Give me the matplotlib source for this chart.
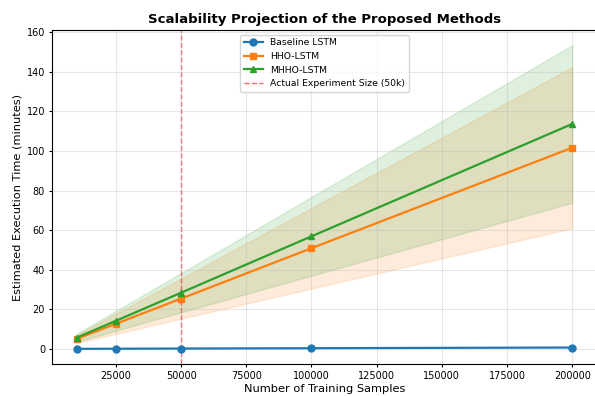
import matplotlib
matplotlib.use("Agg")
from matplotlib import pyplot as plt

samples = [10000, 25000, 50000, 100000, 200000]
baseline = [0.04, 0.09, 0.18, 0.35, 0.70]
hho = [5.1, 12.7, 25.4, 50.9, 101.7]
mhho = [5.7, 14.2, 28.4, 56.9, 113.7]
hho_low = [3.1, 7.6, 15.3, 30.5, 61.0]
hho_high = [7.1, 17.8, 35.6, 71.2, 142.4]
mhho_low = [3.7, 9.2, 18.5, 37.0, 73.9]
mhho_high = [7.7, 19.2, 38.3, 76.8, 153.5]
actual_size = 50000

fig = plt.figure(figsize=(5.95, 3.96), dpi=100)
ax = fig.add_axes([0.0874, 0.0808, 0.916, 0.8434])

ax.plot(samples, baseline, marker='o', color='tab:blue', lw=1.6, ms=5, label='Baseline LSTM')
ax.plot(samples, hho, marker='s', color='tab:orange', lw=1.6, ms=5, label='HHO-LSTM')
ax.fill_between(samples, hho_low, hho_high, color='tab:orange', alpha=0.15)
ax.plot(samples, mhho, marker='^', color='tab:green', lw=1.6, ms=5, label='MHHO-LSTM')
ax.fill_between(samples, mhho_low, mhho_high, color='tab:green', alpha=0.15)
ax.axvline(actual_size, color='red', ls='--', alpha=0.6, lw=1, zorder=1.5,
           label='Actual Experiment Size (50k)')

ax.set_title('Scalability Projection of the Proposed Methods', fontsize=9.5, fontweight='bold', pad=5)
ax.set_xlabel('Number of Training Samples', fontsize=8.2, labelpad=2)
ax.set_ylabel('Estimated Execution Time (minutes)', fontsize=8.2, labelpad=3)
ax.tick_params(labelsize=7, length=2.5, pad=2.5)
ax.grid(True, alpha=0.3)
ax.legend(loc='upper center', fontsize=6.7)

fig.savefig('out.png', dpi=100)
